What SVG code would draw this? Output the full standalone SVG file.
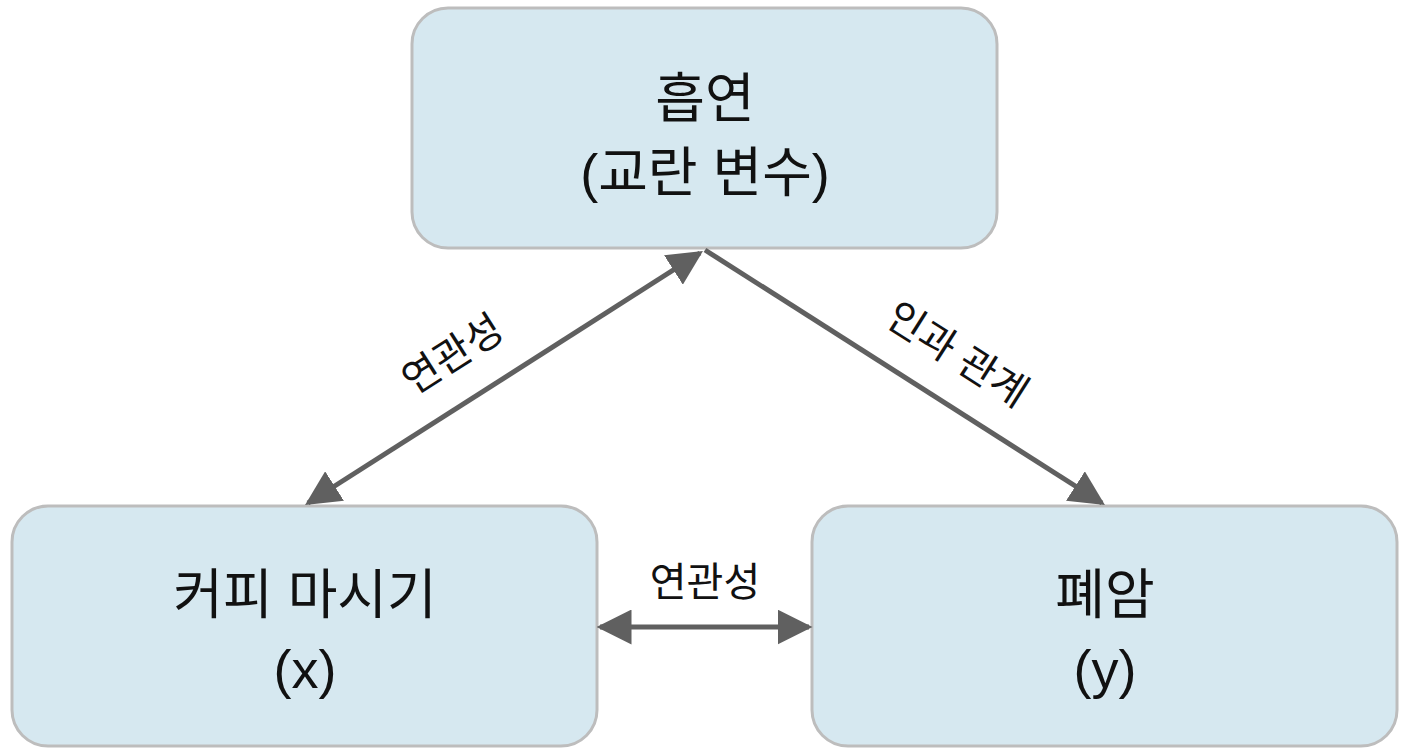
<svg xmlns="http://www.w3.org/2000/svg" width="1408" height="752" viewBox="0 0 1408 752">
<style>
.box{fill:#d6e8f0;stroke:#bdbdbd;stroke-width:3}
.t{font-family:"Liberation Sans","Noto Sans CJK KR",sans-serif;font-size:54px;fill:#111;text-anchor:middle}
.l{font-family:"Liberation Sans","Noto Sans CJK KR",sans-serif;font-size:40px;fill:#111;text-anchor:middle}
.c{stroke:#606060;stroke-width:5;fill:none}
</style>
<defs>
<marker id="m" viewBox="0 0 10 10" refX="9" refY="5" markerWidth="7" markerHeight="7" orient="auto-start-reverse"><path d="M0,0L10,5L0,10z" fill="#606060"/></marker>
</defs>
<rect width="1408" height="752" fill="#fff"/>
<g id="confounder"><rect class="box" x="412" y="8" width="585" height="240" rx="36"/><text class="t" x="705" y="118">흡연</text><text class="t" x="705" y="192">(교란 변수)</text></g>
<g id="x"><rect class="box" x="12" y="506" width="585" height="240" rx="36"/><text class="t" x="305" y="614">커피 마시기</text><text class="t" x="305" y="688">(x)</text></g>
<g id="y"><rect class="box" x="812" y="506" width="585" height="240" rx="36"/><text class="t" x="1105" y="614">폐암</text><text class="t" x="1105" y="688">(y)</text></g>
<g id="connectors">
<line class="c" x1="700" y1="253" x2="308" y2="503" marker-start="url(#m)" marker-end="url(#m)"/>
<line class="c" x1="705" y1="250" x2="1102" y2="503" marker-end="url(#m)"/>
<line class="c" x1="600" y1="627" x2="809" y2="627" marker-start="url(#m)" marker-end="url(#m)"/>
<text class="l" transform="translate(460,366) rotate(-32.5)">연관성</text>
<text class="l" transform="translate(950,366) rotate(32.5)">인과 관계</text>
<text class="l" x="705" y="596">연관성</text>
</g>
</svg>
